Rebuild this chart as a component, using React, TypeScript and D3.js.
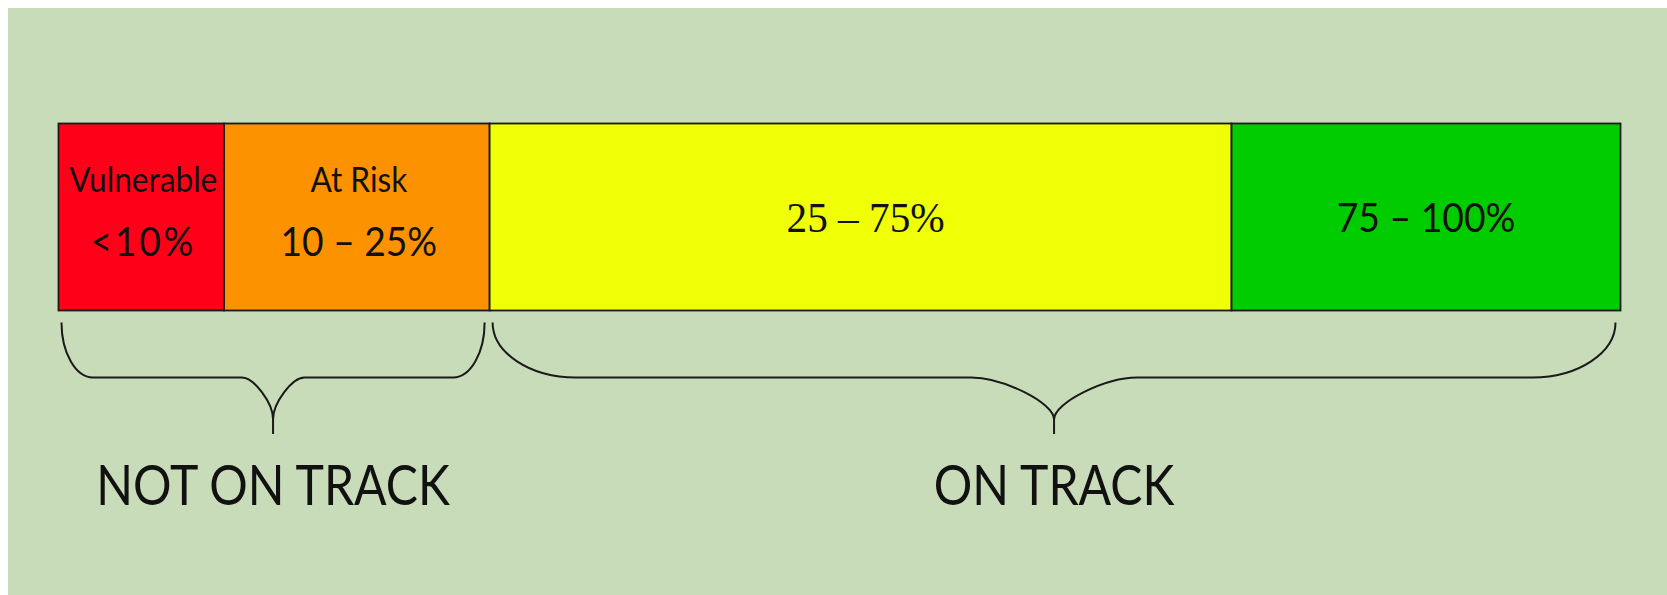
import * as d3 from "d3";

// segments of the progress bar, left to right
const segmentNames = ["Vulnerable", "At Risk", "", ""];
const rangeLabels = ["<10%", "10 – 25%", "25 – 75%", "75 – 100%"];
const segmentSpans = [10.6, 17.0, 47.5, 24.9];
const segmentColors = ["#ff0019", "#fd9200", "#f0fe06", "#00cc00"];

// brackets below the bar
const groupLabels = ["NOT ON TRACK", "ON TRACK"];
const groupSegments = [
  [0, 1],
  [2, 3],
];

const width = 1667;
const height = 595;
const barTop = 123.5;
const barBottom = 310.5;
const sans = "Lato, 'Open Sans', sans-serif";
const serif = "'Liberation Serif', 'DejaVu Serif', serif";

function bracePath(x0: number, x1: number, yTop: number, yMid: number, yTip: number) {
  const r = (x1 - x0) * 0.074;
  const xc = (x0 + x1) / 2;
  const h = yMid - yTop;
  const yNeck = yMid + (yTip - yMid) * 0.74;
  const n = yNeck - yMid;
  const p = d3.path();
  p.moveTo(x0, yTop);
  p.bezierCurveTo(x0, yTop + h * 0.55, x0 + r * 0.45, yMid, x0 + r, yMid);
  p.lineTo(xc - r, yMid);
  p.bezierCurveTo(xc - r * 0.62, yMid, xc, yNeck - n * 0.4, xc, yNeck);
  p.lineTo(xc, yTip);
  p.moveTo(xc, yNeck);
  p.bezierCurveTo(xc, yNeck - n * 0.4, xc + r * 0.62, yMid, xc + r, yMid);
  p.lineTo(x1 - r, yMid);
  p.bezierCurveTo(x1 - r * 0.45, yMid, x1, yTop + h * 0.55, x1, yTop);
  return p.toString();
}

// text squeezed horizontally around its own centre
function Label({ x, y, size, k, font = sans, spacing = 0, children }: any) {
  return (
    <text
      transform={`translate(${x},${y}) scale(${k},1)`}
      textAnchor="middle"
      fontFamily={font}
      fontSize={size}
      letterSpacing={spacing}
      fill="#111"
    >
      {children}
    </text>
  );
}

export default function App() {
  const x = d3.scaleLinear().domain([0, d3.sum(segmentSpans)]).range([58.5, 1620.5]);
  const starts = segmentSpans.map((_, i) => d3.sum(segmentSpans.slice(0, i)));
  const ends = starts.map((s, i) => s + segmentSpans[i]);

  return (
    <>
      <style>{`body{margin:0;overflow:hidden}`}</style>
      <svg width={width} height={height} style={{ display: "block" }}>
        <rect x={0} y={0} width={width} height={height} fill="#fff" />
        <rect x={8} y={8} width={width - 8} height={height - 8} fill="#c9dcb9" />

        {segmentSpans.map((_, i) => {
          const x0 = x(starts[i]);
          const x1 = x(ends[i]);
          const cx = (x0 + x1) / 2;
          return (
            <g key={i}>
              <rect
                x={x0}
                y={barTop}
                width={x1 - x0}
                height={barBottom - barTop}
                fill={segmentColors[i]}
                stroke="#1a1a1a"
                strokeWidth={1.8}
              />
              {segmentNames[i] ? (
                <>
                  <Label x={cx + 2} y={192} size={34} k={0.93}>
                    {segmentNames[i]}
                  </Label>
                  <Label x={cx + 2} y={256} size={40} k={0.93} spacing={i === 0 ? 3 : 0}>
                    {rangeLabels[i]}
                  </Label>
                </>
              ) : i === 2 ? (
                <Label x={cx + 5} y={232} size={43} k={0.96} font={serif}>
                  {rangeLabels[i]}
                </Label>
              ) : (
                <Label x={cx} y={232} size={41} k={0.91}>
                  {rangeLabels[i]}
                </Label>
              )}
            </g>
          );
        })}

        {groupLabels.map((label, g) => {
          const seg = groupSegments[g];
          const x0 = x(starts[seg[0]]) + 3;
          const x1 = x(ends[seg[seg.length - 1]]) - 5;
          const cx = (x0 + x1) / 2;
          return (
            <g key={label}>
              <path
                d={bracePath(x0, x1, barBottom + 12, 377.5, 434)}
                fill="none"
                stroke="#1a1a1a"
                strokeWidth={2}
              />
              <Label x={cx} y={505} size={56} k={0.86}>
                {label}
              </Label>
            </g>
          );
        })}
      </svg>
    </>
  );
}
